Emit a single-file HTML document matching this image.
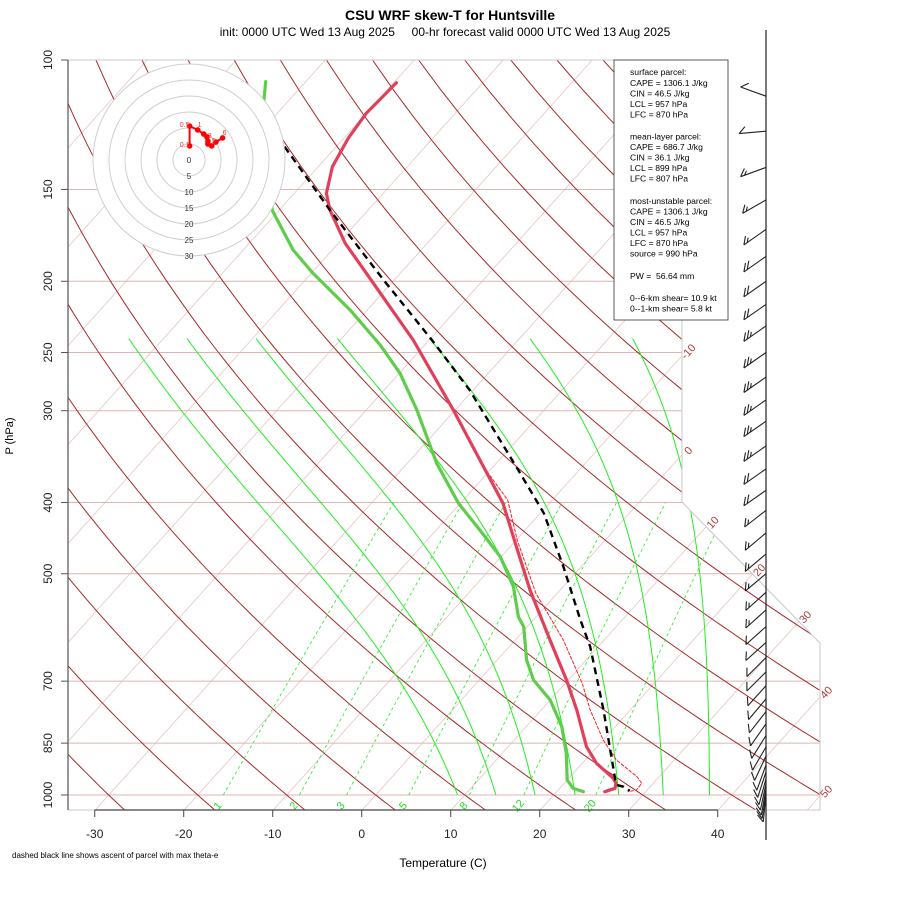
<!DOCTYPE html>
<html><head><meta charset="utf-8"><title>CSU WRF skew-T for Huntsville</title>
<style>
body{margin:0;background:#fff;}
svg{display:block;font-family:"Liberation Sans",Arial,sans-serif;}
</style></head>
<body>
<svg id="chart" width="900" height="900" viewBox="0 0 900 900" xmlns="http://www.w3.org/2000/svg">
<defs><clipPath id="plotclip"><polygon points="68,60 682,60 682,502 820,643 820,810 68,810"/></clipPath></defs>
<rect x="0" y="0" width="900" height="900" fill="#fff"/>
<text x="450" y="20" text-anchor="middle" font-size="14" font-weight="bold">CSU WRF skew-T for Huntsville</text>
<text x="445" y="36" text-anchor="middle" font-size="12" style="white-space:pre" xml:space="preserve">init: 0000 UTC Wed 13 Aug 2025     00-hr forecast valid 0000 UTC Wed 13 Aug 2025</text>
<g id="grid" clip-path="url(#plotclip)"></g>
<g id="series" clip-path="url(#plotclip)"></g>
<g id="hodo"></g>
<g id="axes"></g>
<g id="barbs"></g>
<g id="infobox">
<rect x="614" y="60" width="114" height="260" fill="#fff" stroke="#333" stroke-width="0.8"/>
<g font-size="8.6" fill="#000">
<text x="630" y="75">surface parcel:</text>
<text x="630" y="86">CAPE = 1306.1 J/kg</text>
<text x="630" y="96.5">CIN = 46.5 J/kg</text>
<text x="630" y="107">LCL = 957 hPa</text>
<text x="630" y="117.5">LFC = 870 hPa</text>
<text x="630" y="139.5">mean-layer parcel:</text>
<text x="630" y="150">CAPE = 686.7 J/kg</text>
<text x="630" y="160.5">CIN = 36.1 J/kg</text>
<text x="630" y="171">LCL = 899 hPa</text>
<text x="630" y="181.5">LFC = 807 hPa</text>
<text x="630" y="204">most-unstable parcel:</text>
<text x="630" y="214.5">CAPE = 1306.1 J/kg</text>
<text x="630" y="225">CIN = 46.5 J/kg</text>
<text x="630" y="235.5">LCL = 957 hPa</text>
<text x="630" y="246">LFC = 870 hPa</text>
<text x="630" y="256.5">source = 990 hPa</text>
<text x="630" y="279" style="white-space:pre" xml:space="preserve">PW =  56.64 mm</text>
<text x="630" y="301">0--6-km shear= 10.9 kt</text>
<text x="630" y="311.5">0--1-km shear= 5.8 kt</text>
</g></g>
<text x="12" y="858" font-size="8">dashed black line shows ascent of parcel with max theta-e</text>
<text x="443" y="867" text-anchor="middle" font-size="12">Temperature (C)</text>
<text x="0" y="0" transform="translate(13,436) rotate(-90)" text-anchor="middle" font-size="11">P (hPa)</text>
</svg>
<script>
// ---------- data ----------
const pressureTicks = [100,150,200,250,300,400,500,700,850,1000];
const tempTicks = [-30,-20,-10,0,10,20,30,40];
const isothermLabels = [-10,0,10,20,30,40,50];
const mixingRatios = [1,2,3,5,8,12,20];
const moistStartT = [9.2,13.5,17.9,22.4,27.3,32.3,37.5];
const tempP = [107.4,118.1,127.8,139.7,151.8,160.0,177.6,195.1,216.6,240.4,299.4,357.5,401,459.4,526.1,615.3,697.5,766.2,859.6,905.5,949,964,979.2,989.7];
const tempT = [-69.7,-70.0,-69.5,-68.4,-66.4,-64.3,-59.2,-53.8,-47.8,-41.8,-30.2,-21.1,-15.2,-9.3,-3.4,3.9,9.8,14.0,18.8,21.6,25.0,25.8,26.2,25.4];
const dewP = [107.0,113.5,160.0,181.3,195.1,218.9,244.2,266.9,299.4,353.7,401,436,474,520.7,572.0,590.2,655.1,697.5,742.6,807.4,877.6,954.1,979.2,989.7];
const dewT = [-84.5,-82.8,-70.8,-64.4,-59.8,-51.9,-45.0,-39.9,-34.3,-26.7,-20.2,-15.1,-10.1,-5.6,-2.0,-0.4,3.3,6.1,10.0,14.0,17.2,20.0,21.5,23.0];
const parcelP = [131.2,160.0,199.2,240.4,281.2,365.0,413.7,489.1,578.0,628.4,766.2,954.1,969.2,974.3,986.6];
const parcelT = [-75.8,-64.3,-51.2,-39.7,-30.4,-16.3,-9.6,-2.0,5.3,9.1,17.0,25.4,26.1,27.0,28.1];
const tvP = [299.4,357.5,396.9,449.8,531.6,615.3,704.8,766.2,841.7,896.2,944.3,964,984.5,989.7];
const tvT = [-30.2,-21.1,-15.0,-9.9,-2.4,5.4,11.9,15.5,20.0,23.5,27.5,28.7,28.8,28.0];
const hodoU = [0.2,0.2,2.7,4.6,5.6,5.9,5.9,7.1,8.4,10.5];
const hodoV = [4.4,10.6,9.4,8.1,7.2,5.9,5.0,4.4,5.6,6.9];
const hodoRings = [0,5,10,15,20,25,30];
const barbP = [112,125,140,155,170,185,200,215,230,250,270,290,310,335,360,385,410,440,470,500,530,560,590,620,650,680,710,740,770,800,830,860,885,910,930,950,965,980,990,1000];
const barbDir = [290,265,250,240,235,235,235,235,235,235,235,235,235,235,235,235,232,230,230,230,228,228,228,228,225,225,222,220,218,215,212,210,205,200,198,195,192,190,188,186];
const barbSpd = [10,10,15,15,15,20,20,20,25,25,25,25,25,25,20,20,15,15,15,15,15,15,10,10,10,10,10,10,10,10,10,10,10,10,10,10,10,10,10,10];

// ---------- axis functions ----------
const NS='http://www.w3.org/2000/svg';
function yP(p){return 795+319.2*Math.log(p/1000);}
function xT(T,p){return 361.7+8.9*T+0.9*(810.6-yP(p));}
function mk(tag,attrs,parent){const e=document.createElementNS(NS,tag);for(const k in attrs)e.setAttribute(k,attrs[k]);parent.appendChild(e);return e;}
function pathFrom(pts){return pts.map((q,i)=>(i?'L':'M')+q[0].toFixed(1)+','+q[1].toFixed(1)).join(' ');}
const grid=document.getElementById('grid'), series=document.getElementById('series'), axes=document.getElementById('axes'), hodo=document.getElementById('hodo'), barbs=document.getElementById('barbs');

// isotherms
for(let T=-160;T<=60;T+=10){
  const el=mk('line',{x1:xT(T,1050),y1:yP(1050),x2:xT(T,100),y2:yP(100),stroke:'#e8c4c4','stroke-width':0.8},grid);
  
  
}
// pressure lines
pressureTicks.forEach(p=>{
  const el=mk('line',{x1:68,y1:yP(p),x2:820,y2:yP(p),stroke:'#dfb4b4','stroke-width':1},grid);
  
  
});
// dry adiabats
for(let th=-40;th<=200;th+=10){
  const pts=[];
  for(let p=1050;p>=100;p-=10){const T=(th+273.15)*Math.pow(p/1000,0.2857)-273.15;pts.push([xT(T,p),yP(p)]);}
  const el=mk('path',{d:pathFrom(pts),fill:'none',stroke:'#a52a2a','stroke-width':1},grid);
  
  
}
// mixing ratio lines
function tdFromE(e){const l=Math.log(e/6.112);return 243.5*l/(17.67-l);}
mixingRatios.forEach(w=>{
  const pts=[];
  for(let p=1000;p>=400;p-=10){pts.push([xT(tdFromE(w*p/(622+w)),p),yP(p)]);}
  const el=mk('path',{d:pathFrom(pts),fill:'none',stroke:'#33ee33','stroke-width':0.9,'stroke-dasharray':'3,3'},grid);
  
  
  const x=xT(tdFromE(w*1000/(622+w)),1000);
  const t=mk('text',{x:0,y:0,transform:'translate('+(x-3)+',808) rotate(-50)',fill:'#22dd22','font-size':11,'text-anchor':'middle'},axes);
  t.textContent=String(w);
  
  
});
// moist adiabats
function es(T){return 6.112*Math.exp(17.67*T/(T+243.5));}
moistStartT.forEach(T0=>{
  const latentFactor=0.88-0.005*(T0-9)-0.006*Math.max(0,T0-22);
  let T=T0,lp=Math.log(1000);const pts=[[xT(T,1000),yP(1000)]];const dl=-0.005;
  while(Math.exp(lp)>240){
    const p=Math.exp(lp),Tk=T+273.15,e=es(T),rs=latentFactor*0.622*e/(p-e);
    const g=(287*Tk+2.5e6*rs)/(1005+2.5e6*2.5e6*rs*0.622/(287*Tk*Tk));
    T+=g*dl;lp+=dl;pts.push([xT(T,Math.exp(lp)),yP(Math.exp(lp))]);
  }
  const el=mk('path',{d:pathFrom(pts),fill:'none',stroke:'#22ee22','stroke-width':1},grid);
  
  
});
// frame
const fr=mk('polyline',{points:'68,60 682,60 682,502 820,643 820,810 68,810',fill:'none',stroke:'#c8c8c8','stroke-width':1},axes);



// series
function drawSeries(P,T,attrs,name){
  const pts=P.map((p,i)=>[xT(T[i],p),yP(p)]);
  const el=mk('path',Object.assign({d:pathFrom(pts),fill:'none','stroke-linejoin':'round','stroke-linecap':'round'},attrs),series);
  
  
}
drawSeries(tvP,tvT,{stroke:'#ff2020','stroke-width':1,'stroke-dasharray':'3,2'},'virtual-temperature-line');
drawSeries(dewP,dewT,{stroke:'#5fcd4c','stroke-width':3.2},'dewpoint-line');
drawSeries(tempP,tempT,{stroke:'#e2405a','stroke-width':3.2},'temperature-line');
drawSeries(parcelP,parcelT,{stroke:'#000','stroke-width':2.4,'stroke-dasharray':'7,5','stroke-linecap':'butt'},'parcel-ascent-line');

// axes
const yax=mk('line',{x1:68,y1:60,x2:68,y2:810,stroke:'#555','stroke-width':1.2},axes);


pressureTicks.forEach(p=>{
  const y=yP(p);
  const tk=mk('line',{x1:61,y1:y,x2:68,y2:y,stroke:'#555'},axes);
  
  
  const t=mk('text',{x:0,y:0,transform:'translate(52,'+y+') rotate(-90)','text-anchor':'middle','font-size':12,fill:'#222'},axes);
  t.textContent=String(p);
  
  
});
const xax=mk('line',{x1:xT(-30,1050),y1:810,x2:xT(40,1050),y2:810,stroke:'#444','stroke-width':1.2},axes);


tempTicks.forEach(T=>{
  const x=xT(T,1050);
  const tk=mk('line',{x1:x,y1:810,x2:x,y2:817,stroke:'#444'},axes);
  
  
  const t=mk('text',{x:x,y:838,'text-anchor':'middle','font-size':12,fill:'#222'},axes);
  t.textContent=String(T);
  
  
});
// isotherm labels on right edge of frame
function frameRightX(y){if(y<=502)return 682;if(y<=643)return 682+(y-502)*138/141;return 820;}
isothermLabels.forEach(T=>{
  let y=60;for(let yy=60;yy<=810;yy+=0.5){const p=1000*Math.exp((yy-795)/319.2);if(xT(T,p)<=frameRightX(yy)){y=yy;break;}}
  const x=frameRightX(y);
  const t=mk('text',{x:0,y:0,transform:'translate('+(x+9)+','+(y-2)+') rotate(-48)','text-anchor':'middle','font-size':11,fill:'#b03a3a'},axes);
  t.textContent=String(T);
  
  
});

// hodograph
const hcx=189,hcy=160,hs=3.2;
for(let i=hodoRings.length-1;i>=1;i--){
  const r=hodoRings[i]*hs;
  const c=mk('circle',{cx:hcx,cy:hcy,r:r,fill:'#fff',stroke:'#cfcfcf','stroke-width':1},hodo);
  
  
}
hodoRings.forEach(v=>{
  const t=mk('text',{x:hcx,y:hcy+v*hs+3,'text-anchor':'middle','font-size':8,fill:'#333'},hodo);
  t.textContent=String(v);
  
  
});
const hpts=hodoU.map((u,i)=>[hcx+u*hs,hcy-hodoV[i]*hs]);
const hl=mk('path',{d:pathFrom(hpts),fill:'none',stroke:'#f00','stroke-width':2},hodo);


hpts.forEach((q,i)=>{
  const c=mk('circle',{cx:q[0],cy:q[1],r:2.8,fill:'#f00'},hodo);
  
  
});
[['0.1',0],['0.5',1],['1',2],['3',5],['5',7],['6',9]].forEach(([lab,i])=>{
  const t=mk('text',{x:hpts[i][0]-(i<2?5:-2),y:hpts[i][1]-(i<2?-1:3),'text-anchor':'middle','font-size':7,fill:'#f33'},hodo);
  t.textContent=lab;
  
  
});

// wind barbs
const bx=766;
const staff=mk('line',{x1:bx,y1:30,x2:bx,y2:840,stroke:'#222','stroke-width':1.2},barbs);


barbP.forEach((p,i)=>{
  const y=yP(p),d=barbDir[i]*Math.PI/180,L=27;
  const ux=Math.sin(d),uy=-Math.cos(d);
  const tx=bx+ux*L,ty=y+uy*L;
  const g=mk('g',{stroke:'#222','stroke-width':1.1,fill:'none'},barbs);
  
  
  let d2='M'+bx+','+y.toFixed(1)+' L'+tx.toFixed(1)+','+ty.toFixed(1);
  const a=Math.atan2(uy,ux)+135*Math.PI/180;
  const fx=Math.cos(a),fy=Math.sin(a);
  let s=barbSpd[i],k=0;
  while(s>=10){const sx=tx-ux*k*4,sy=ty-uy*k*4;d2+=' M'+sx.toFixed(1)+','+sy.toFixed(1)+' l'+(fx*9).toFixed(1)+','+(fy*9).toFixed(1);s-=10;k++;}
  if(s>=5){if(k===0)k=1;const sx=tx-ux*k*4,sy=ty-uy*k*4;d2+=' M'+sx.toFixed(1)+','+sy.toFixed(1)+' l'+(fx*5).toFixed(1)+','+(fy*5).toFixed(1);}
  mk('path',{d:d2},g);
});
</script>
</body></html>
